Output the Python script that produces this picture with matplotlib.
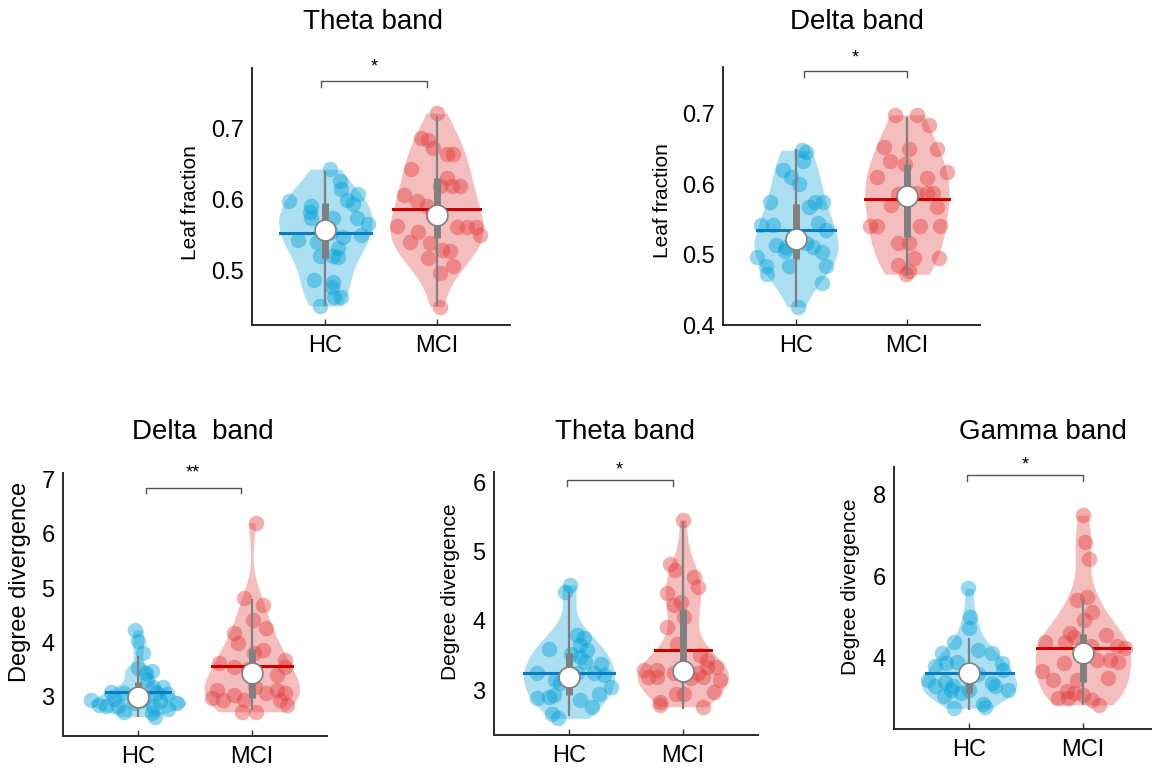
import numpy as np
import matplotlib.pyplot as plt

plt.rcParams['font.family'] = ['Liberation Sans', 'DejaVu Sans']

groups = ['HC', 'MCI']

# ---- Theta band, leaf fraction (top left) ----
theta_leaf_hc = [0.643, 0.627, 0.615, 0.608, 0.599, 0.594, 0.598, 0.591, 0.583, 0.574,
                 0.574, 0.574, 0.565, 0.550, 0.548, 0.543, 0.540, 0.532, 0.521, 0.519,
                 0.487, 0.484, 0.476, 0.462, 0.462, 0.450, 0.555, 0.520]
theta_leaf_hc_x = [0.04, 0.13, 0.14, 0.29, 0.19, 0.25, -0.33, -0.13, -0.14, -0.13,
                   0.07, 0.28, 0.38, 0.32, 0.16, -0.25, -0.08, 0.11, -0.05, 0.11,
                   -0.10, 0.07, 0.06, 0.14, 0.08, -0.05, 0.05, 0.07]
theta_leaf_mci = [0.722, 0.687, 0.684, 0.673, 0.665, 0.664, 0.643, 0.619, 0.619, 0.619,
                  0.630, 0.607, 0.598, 0.591, 0.580, 0.563, 0.554, 0.540, 0.539, 0.529,
                  0.528, 0.562, 0.562, 0.562, 0.550, 0.517, 0.506, 0.496, 0.449]
theta_leaf_mci_x = [0.0, -0.14, -0.08, -0.03, 0.09, 0.15, -0.23, 0.03, 0.14, 0.21,
                    0.09, -0.29, -0.18, -0.09, -0.03, -0.36, -0.17, -0.24, -0.06, 0.05,
                    0.12, 0.18, 0.27, 0.35, 0.39, -0.08, 0.15, 0.03, 0.03]
# whisker low, q1, median, q3, whisker high, mean
theta_leaf_hc_box = [0.45, 0.517, 0.557, 0.595, 0.64, 0.553]
theta_leaf_mci_box = [0.45, 0.546, 0.579, 0.631, 0.718, 0.587]

# ---- Delta band, leaf fraction (top right) ----
delta_leaf_hc = [0.648, 0.646, 0.632, 0.620, 0.610, 0.600, 0.575, 0.575, 0.575, 0.568,
                 0.542, 0.542, 0.544, 0.535, 0.514, 0.511, 0.516, 0.511, 0.504, 0.497,
                 0.483, 0.483, 0.483, 0.473, 0.459, 0.426, 0.505]
delta_leaf_hc_x = [0.05, 0.09, 0.06, -0.12, -0.05, 0.03, -0.24, 0.17, 0.24, 0.12,
                   -0.32, -0.21, 0.20, 0.27, -0.18, -0.09, 0.09, 0.15, 0.23, -0.35,
                   -0.27, -0.06, 0.27, -0.26, 0.23, 0.02, -0.10]
delta_leaf_mci = [0.698, 0.698, 0.684, 0.653, 0.650, 0.650, 0.632, 0.629, 0.610, 0.608,
                  0.617, 0.587, 0.587, 0.587, 0.586, 0.570, 0.568, 0.540, 0.540, 0.540,
                  0.540, 0.516, 0.516, 0.495, 0.485, 0.495, 0.476, 0.472]
delta_leaf_mci_x = [-0.11, 0.09, 0.20, -0.21, 0.02, 0.27, -0.15, -0.02, -0.27, 0.18,
                    0.36, 0.09, 0.18, 0.24, -0.08, -0.14, 0.27, -0.33, -0.27, 0.12,
                    0.30, 0.02, -0.08, 0.06, -0.08, 0.29, 0.02, -0.01]
delta_leaf_hc_box = [0.426, 0.494, 0.522, 0.572, 0.65, 0.535]
delta_leaf_mci_box = [0.47, 0.525, 0.583, 0.628, 0.695, 0.579]

# ---- Delta band, degree divergence (bottom left) ----
delta_deg_hc = [4.23, 4.02, 3.80, 3.52, 3.43, 3.47, 3.09, 3.06, 3.18, 3.18,
                3.05, 2.94, 2.85, 2.82, 2.82, 2.72, 2.88, 2.82, 2.91, 2.78,
                2.88, 2.63, 2.69, 2.95, 2.93, 3.06, 3.30]
delta_deg_hc_x = [-0.03, 0.0, 0.04, 0.0, 0.07, 0.12, -0.24, -0.12, 0.13, 0.22,
                  0.25, -0.41, -0.34, -0.28, -0.18, -0.12, -0.04, 0.13, 0.19, 0.26,
                  0.34, 0.15, 0.12, -0.21, 0.04, 0.16, 0.08]
delta_deg_mci = [6.20, 4.82, 4.69, 4.42, 4.26, 4.17, 3.98, 3.86, 3.80, 3.62,
                 3.55, 3.68, 3.40, 3.55, 2.97, 2.94, 3.03, 2.94, 3.18, 3.06,
                 3.12, 3.06, 2.85, 2.72, 2.72, 2.94, 3.12, 3.50]
delta_deg_mci_x = [0.04, -0.07, 0.10, 0.01, 0.12, -0.16, -0.12, 0.10, 0.02, -0.29,
                   -0.16, 0.29, 0.22, 0.29, -0.35, -0.25, -0.16, -0.07, 0.03, 0.12,
                   0.22, 0.29, 0.31, -0.09, 0.04, 0.25, -0.31, -0.03]
delta_deg_hc_box = [2.62, 2.95, 2.99, 3.27, 3.75, 3.09]
delta_deg_mci_box = [2.75, 2.98, 3.44, 3.88, 4.80, 3.56]

# ---- Theta band, degree divergence (bottom middle) ----
theta_deg_hc = [4.52, 4.42, 3.79, 3.75, 3.65, 3.60, 3.58, 3.48, 3.38, 3.24,
                3.14, 3.24, 3.24, 3.22, 3.05, 2.88, 2.90, 2.93, 2.86, 2.76,
                2.66, 2.59, 3.10, 2.95, 3.40, 3.52]
theta_deg_hc_x = [0.01, -0.04, 0.07, 0.13, 0.10, -0.18, 0.16, 0.10, 0.28, -0.28,
                  -0.12, 0.07, 0.22, 0.31, 0.37, -0.28, -0.18, -0.13, 0.10, 0.20,
                  -0.15, -0.10, -0.08, 0.26, 0.14, 0.02]
theta_deg_mci = [5.46, 4.83, 4.73, 4.64, 4.49, 4.40, 4.23, 4.28, 3.91, 4.05,
                 3.67, 3.50, 3.43, 3.29, 3.29, 3.19, 3.19, 3.24, 3.17, 3.24,
                 3.19, 3.34, 3.34, 3.14, 2.97, 2.83, 2.95, 2.95, 2.76, 2.78]
theta_deg_mci_x = [0.0, -0.11, -0.07, 0.10, 0.13, -0.14, -0.08, -0.02, -0.14, 0.01,
                   -0.05, 0.15, 0.21, -0.34, -0.23, -0.31, -0.23, -0.08, 0.07, 0.13,
                   0.18, 0.21, 0.29, 0.33, 0.27, -0.20, -0.06, 0.01, 0.18, -0.20]
theta_deg_hc_box = [2.62, 2.93, 3.19, 3.53, 4.42, 3.25]
theta_deg_mci_box = [2.72, 3.12, 3.27, 4.17, 5.45, 3.58]

# ---- Gamma band, degree divergence (bottom right) ----
gamma_deg_hc = [5.70, 5.01, 4.72, 4.40, 4.11, 4.20, 4.11, 3.79, 3.87, 3.91,
                3.87, 3.71, 3.46, 3.30, 3.42, 3.30, 3.22, 3.14, 3.38, 3.22,
                3.06, 2.77, 2.81, 2.87, 3.30, 3.60, 3.22]
gamma_deg_hc_x = [-0.01, 0.01, 0.0, -0.13, -0.24, 0.08, 0.20, -0.30, -0.20, -0.11,
                  0.29, 0.30, -0.36, -0.30, -0.21, -0.14, -0.16, -0.07, 0.20, 0.34,
                  -0.22, -0.13, 0.14, 0.12, 0.23, 0.08, 0.0]
gamma_deg_mci = [7.49, 6.84, 6.43, 5.50, 5.41, 5.13, 4.93, 4.60, 4.52, 4.56,
                 4.40, 4.38, 4.30, 4.28, 4.24, 3.91, 3.95, 3.95, 3.87, 3.67,
                 3.46, 3.46, 3.20, 3.14, 3.02, 3.02, 3.08, 2.98, 2.85, 3.50]
gamma_deg_mci_x = [0.0, 0.02, 0.05, 0.04, -0.05, 0.08, 0.01, -0.11, -0.08, 0.20,
                   -0.33, -0.16, 0.07, 0.30, 0.37, 0.31, 0.24, 0.12, -0.17, -0.36,
                   -0.26, -0.05, -0.14, -0.08, -0.22, -0.13, 0.0, 0.08, 0.14, 0.22]
gamma_deg_hc_box = [2.72, 3.15, 3.63, 3.80, 4.48, 3.62]
gamma_deg_mci_box = [2.85, 3.40, 4.12, 4.58, 5.42, 4.25]

titles = ['Theta band', 'Delta band', 'Delta  band', 'Theta band', 'Gamma band']
ylabels = ['Leaf fraction', 'Leaf fraction', 'Degree divergence', 'Degree divergence', 'Degree divergence']
stars = ['*', '*', '**', '*', '*']

fill_colors = ['#00A0D7', '#E33C3C']
mean_colors = ['#0A7CC0', '#CC0000']
box_gray = '#808080'

W, H = 1152, 768
fig = plt.figure(figsize=(W / 100, H / 100), dpi=100)


def add_axes_px(left, top, right, bottom):
    return fig.add_axes([left / W, 1 - bottom / H, (right - left) / W, (bottom - top) / H])


def kde(vals, grid):
    vals = np.asarray(vals)
    sig = np.median(np.abs(vals - np.median(vals))) / 0.6745
    bw = sig * (4 / (3 * len(vals))) ** 0.2
    return np.exp(-0.5 * ((grid[:, None] - vals[None, :]) / bw) ** 2).sum(axis=1)


def violin(ax, pos, vals, offs, box, k, width):
    vals = np.asarray(vals)
    grid = np.linspace(vals.min(), vals.max(), 300)
    d = kde(vals, grid)
    w = d / d.max() * width
    ax.fill_betweenx(grid, pos - w, pos + w, color=fill_colors[k], alpha=0.33, lw=0, zorder=1)
    ax.scatter(pos + np.asarray(offs), vals, s=125, color=fill_colors[k], alpha=0.42,
               lw=0, zorder=2)
    lo, q1, med, q3, hi, mean = box
    mw = np.interp(mean, grid, w)
    ax.plot([pos - mw, pos + mw], [mean, mean], color=mean_colors[k], lw=2.2, zorder=3)
    ax.plot([pos, pos], [lo, hi], color=box_gray, lw=1.6, zorder=4, solid_capstyle='butt')
    ax.plot([pos, pos], [q1, q3], color=box_gray, lw=5, zorder=4, solid_capstyle='butt')
    ax.plot([pos], [med], 'o', ms=15, mfc='white', mec=box_gray, mew=1.2, zorder=5)


panels = [
    (theta_leaf_hc, theta_leaf_hc_x, theta_leaf_hc_box, theta_leaf_mci, theta_leaf_mci_x, theta_leaf_mci_box),
    (delta_leaf_hc, delta_leaf_hc_x, delta_leaf_hc_box, delta_leaf_mci, delta_leaf_mci_x, delta_leaf_mci_box),
    (delta_deg_hc, delta_deg_hc_x, delta_deg_hc_box, delta_deg_mci, delta_deg_mci_x, delta_deg_mci_box),
    (theta_deg_hc, theta_deg_hc_x, theta_deg_hc_box, theta_deg_mci, theta_deg_mci_x, theta_deg_mci_box),
    (gamma_deg_hc, gamma_deg_hc_x, gamma_deg_hc_box, gamma_deg_mci, gamma_deg_mci_x, gamma_deg_mci_box),
]

# layout (pixels): axes rect, ylim, yticks, widths, bracket, labels
rects = [(252, 68, 510, 325), (723, 67, 980, 325), (63, 473, 327, 736),
         (494, 472, 758, 735), (894, 467, 1158, 729)]
ylims = [(0.423, 0.786), (0.4, 0.766), (2.274, 7.12), (2.35, 6.154), (2.26, 8.67)]
yticks = [[0.5, 0.6, 0.7], [0.4, 0.5, 0.6, 0.7], [3, 4, 5, 6, 7], [3, 4, 5, 6], [4, 6, 8]]
vwidths = [0.42, 0.38, 0.42, 0.40, 0.42]
brackets = [(0.96, 1.91, 0.951, 0.927, 1.005), (1.07, 2.0, 0.986, 0.962, 1.034),
            (1.07, 1.9, 0.942, 0.923, 1.0), (0.98, 1.91, 0.970, 0.948, 1.008),
            (0.98, 2.0, 0.969, 0.948, 1.008)]
title_pos = [(373, 22), (857, 22), (203, 432), (625, 432), (1043, 432)]
ylabel_pos = [(191, 203), (663, 201), (20, 582), (450, 592), (850, 587)]
ylabel_size = [15, 15, 17, 15, 15]

for i, (hc, hcx, hcb, mci, mcix, mcib) in enumerate(panels):
    ax = add_axes_px(*rects[i])
    ax.patch.set_alpha(0)
    violin(ax, 1, hc, hcx, hcb, 0, vwidths[i])
    violin(ax, 2, mci, mcix, mcib, 1, vwidths[i])
    ax.set_xlim(0.34, 2.66)
    ax.set_ylim(*ylims[i])
    ax.set_xticks([1, 2])
    ax.set_xticklabels(groups)
    ax.set_yticks(yticks[i])
    ax.set_yticklabels([f'{t:g}' for t in yticks[i]])
    ax.tick_params(axis='x', direction='in', length=4, width=1, pad=7, labelsize=17, colors='#333333',
                   labelcolor='black')
    ax.tick_params(axis='y', length=0, pad=6, labelsize=17)
    for s in ['top', 'right']:
        ax.spines[s].set_visible(False)
    for s in ['left', 'bottom']:
        ax.spines[s].set_linewidth(1.4)
        ax.spines[s].set_color('#2b2b2b')

    x0, x1, ytop, yleg, ystar = brackets[i]
    tr = ax.get_xaxis_transform()
    ax.plot([x0, x0, x1, x1], [yleg, ytop, ytop, yleg], color='#555555', lw=1.0,
            transform=tr, clip_on=False)
    ax.text((x0 + x1) / 2, ystar, stars[i], transform=tr, ha='center', va='center',
            fontsize=13)

    tx, ty = title_pos[i]
    fig.text(tx / W, 1 - ty / H, titles[i], ha='center', va='center', fontsize=20)
    lx, ly = ylabel_pos[i]
    fig.text(lx / W, 1 - ly / H, ylabels[i], ha='center', va='center', rotation=90,
             fontsize=ylabel_size[i])

fig.savefig('out.png', dpi=100)
